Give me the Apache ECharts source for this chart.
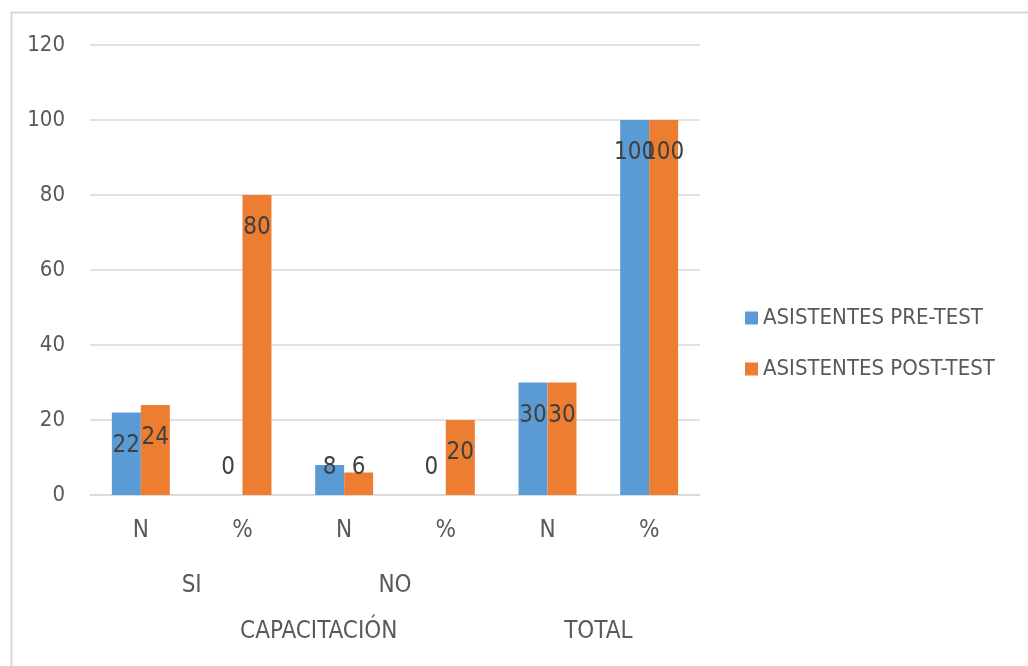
<!DOCTYPE html>
<html>
<head>
<meta charset="utf-8">
<script src="https://cdn.jsdelivr.net/npm/echarts@6/dist/echarts.min.js"></script>
<style>
html,body{margin:0;padding:0;background:#fff;}
#chart{width:1028px;height:666px;}
</style>
</head>
<body>
<div id="chart"></div>
<script>
var categories = ['N', '%', 'N', '%', 'N', '%'];
var groupLevel1 = ['SI', 'NO', ''];
var groupLevel2a = ['', '', '', '', 'CAPACITACIÓN', '', '', '', '', '', '', ''];
var groupLevel2b = ['', '', 'TOTAL'];
var seriesNames = ['ASISTENTES PRE-TEST', 'ASISTENTES POST-TEST'];
var preTest = [22, 0, 8, 0, 30, 100];
var postTest = [24, 80, 6, 20, 30, 100];
var yTicks = [0, 20, 40, 60, 80, 100, 120];

var FONT = "'DejaVu Sans Condensed', 'DejaVu Sans', sans-serif";
var colors = ['#5B9BD5', '#ED7D31'];

function makeData(arr) {
  return arr.map(function (v) {
    if (v < 10) {
      return { value: v, label: { position: 'insideBottom', distance: 15 } };
    }
    return { value: v };
  });
}

var chart = echarts.init(document.getElementById('chart'));
var labelStyle = {
  show: true,
  position: 'insideTop',
  distance: 21,
  color: '#404040',
  fontSize: 24,
  lineHeight: 24,
  fontFamily: FONT
};
var catLabel = { color: '#595959', fontSize: 24, lineHeight: 24, fontFamily: FONT, margin: 24, interval: 0 };

function groupAxis(data, offset) {
  return {
    type: 'category',
    data: data,
    position: 'bottom',
    offset: offset,
    axisLine: { show: false },
    axisTick: { show: false },
    axisLabel: catLabel
  };
}

chart.setOption({
  animation: false,
  backgroundColor: '#ffffff',
  graphic: [{
    type: 'rect',
    left: 9, top: 10,
    shape: { width: 1100, height: 700 },
    style: { fill: 'none', stroke: '#d9d9d9', lineWidth: 2 },
    silent: true
  }],
  color: colors,
  grid: { left: 90, right: 328, top: 45, bottom: 171, containLabel: false },
  legend: {
    orient: 'vertical',
    left: 740,
    top: 302,
    itemWidth: 13,
    itemHeight: 13,
    itemGap: 29,
    icon: 'rect',
    textStyle: { color: '#595959', fontSize: 22, lineHeight: 22, fontFamily: FONT },
    data: seriesNames
  },
  xAxis: [
    {
      type: 'category',
      data: categories,
      position: 'bottom',
      axisLine: { show: true, lineStyle: { color: '#d9d9d9', width: 1.5 } },
      axisTick: { show: false },
      axisLabel: catLabel
    },
    groupAxis(groupLevel1, 55),
    groupAxis(groupLevel2a, 101),
    groupAxis(groupLevel2b, 101)
  ],
  yAxis: {
    type: 'value',
    min: yTicks[0],
    max: yTicks[yTicks.length - 1],
    interval: yTicks[1] - yTicks[0],
    axisLine: { show: false },
    axisTick: { show: false },
    axisLabel: { color: '#595959', fontSize: 22, fontFamily: FONT, margin: 25 },
    splitLine: { lineStyle: { color: '#d9d9d9', width: 1.5 } }
  },
  series: [
    {
      name: seriesNames[0],
      type: 'bar',
      xAxisIndex: 0,
      data: makeData(preTest),
      barGap: '0%',
      barCategoryGap: '43%',
      label: labelStyle
    },
    {
      name: seriesNames[1],
      type: 'bar',
      xAxisIndex: 0,
      data: makeData(postTest),
      barGap: '0%',
      barCategoryGap: '43%',
      label: labelStyle
    }
  ]
});
</script>
</body>
</html>
